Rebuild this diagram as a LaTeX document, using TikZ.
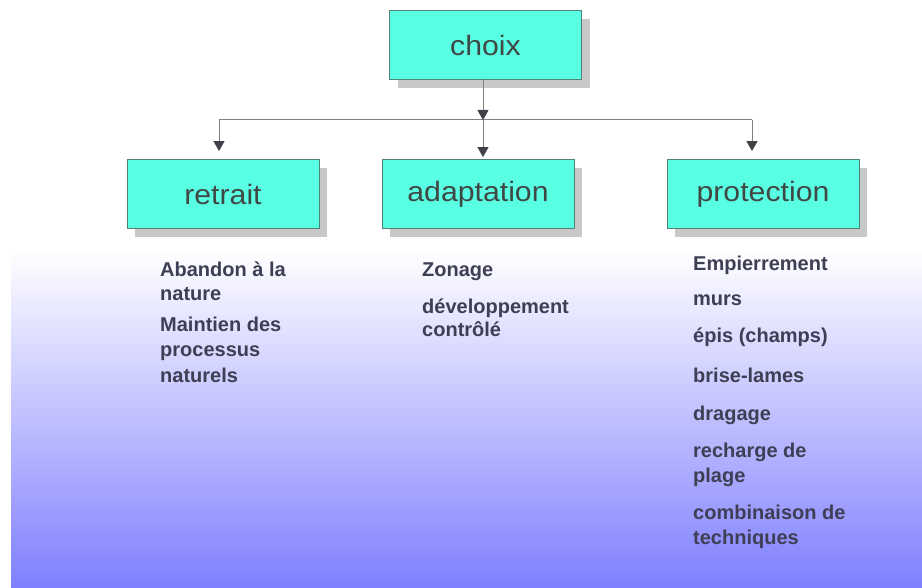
\documentclass[tikz,border=0pt]{standalone}
\usepackage{fontspec}
\setmainfont{Liberation Sans}
\newfontfamily\boxfont[FakeStretch=1.08]{Liberation Sans}
\usetikzlibrary{arrows.meta,shadows}
\definecolor{boxfill}{RGB}{88,255,226}
\definecolor{boxborder}{RGB}{80,130,120}
\definecolor{shadowgray}{RGB}{200,200,200}
\definecolor{linegray}{RGB}{128,128,128}
\definecolor{tipgray}{RGB}{64,64,72}
\definecolor{boxtext}{RGB}{64,72,70}
\definecolor{itemtext}{RGB}{62,62,84}
\definecolor{bluebottom}{RGB}{127,127,255}
\tikzset{
  box/.style={draw=boxborder, line width=0.9pt, fill=boxfill, minimum width=192pt, minimum height=69pt,
    inner sep=0pt, text=boxtext, font=\boxfont\fontsize{28}{32}\selectfont,
    drop shadow={shadow xshift=8pt, shadow yshift=-9pt, fill=shadowgray, opacity=1}},
  conn/.style={draw=linegray, line width=1pt},
  tiparrow/.style={conn, -{Triangle[width=11pt,length=10pt,fill=tipgray,color=tipgray]}},
  item/.style={anchor=base west, inner sep=0pt, text=itemtext, font=\bfseries\fontsize{20}{24}\selectfont}
}
\begin{document}
\begin{tikzpicture}[x=1pt,y=-1pt]
\useasboundingbox (0,0) rectangle (922,588);
\fill[white] (0,0) rectangle (922,588);
\shade[top color=white, bottom color=bluebottom] (11,250) rectangle (922,588);

\node[box] (choix) at (485.5,45) {choix};
\node[box] (retrait) at (223,194) {retrait};
\node[box] (adaptation) at (478,194) {adaptation};
\node[box] (protection) at (763,194) {protection};

\coordinate (j) at (483,120);
\coordinate (jl) at (219,120);
\coordinate (jr) at (752,120);
\draw[conn] (jl) -- (jr);
\draw[tiparrow] (choix.south -| j) -- (j);
\draw[tiparrow, shorten >=2pt] (j) -- (j |- adaptation.north);
\draw[tiparrow, shorten >=8pt] (jl) -- (jl |- retrait.north);
\draw[tiparrow, shorten >=8pt] (jr) -- (jr |- protection.north);

\node[item] (l1) at (160,277) {Abandon à la};
\node[item] (l2) at (160,301) {nature};
\node[item] (l3) at (160,332) {Maintien des};
\node[item] (l4) at (160,356) {processus};
\node[item] (l5) at (160,382) {naturels};

\node[item] (m1) at (422,277) {Zonage};
\node[item] (m2) at (422,314) {développement};
\node[item] (m3) at (422,337) {contrôlé};

\node[item] (r1) at (693,271) {Empierrement};
\node[item] (r2) at (693,306) {murs};
\node[item] (r3) at (693,343) {épis (champs)};
\node[item] (r4) at (693,382) {brise-lames};
\node[item] (r5) at (693,420) {dragage};
\node[item] (r6) at (693,457) {recharge de};
\node[item] (r7) at (693,482) {plage};
\node[item] (r8) at (693,519) {combinaison de};
\node[item] (r9) at (693,544) {techniques};
\end{tikzpicture}
\end{document}
